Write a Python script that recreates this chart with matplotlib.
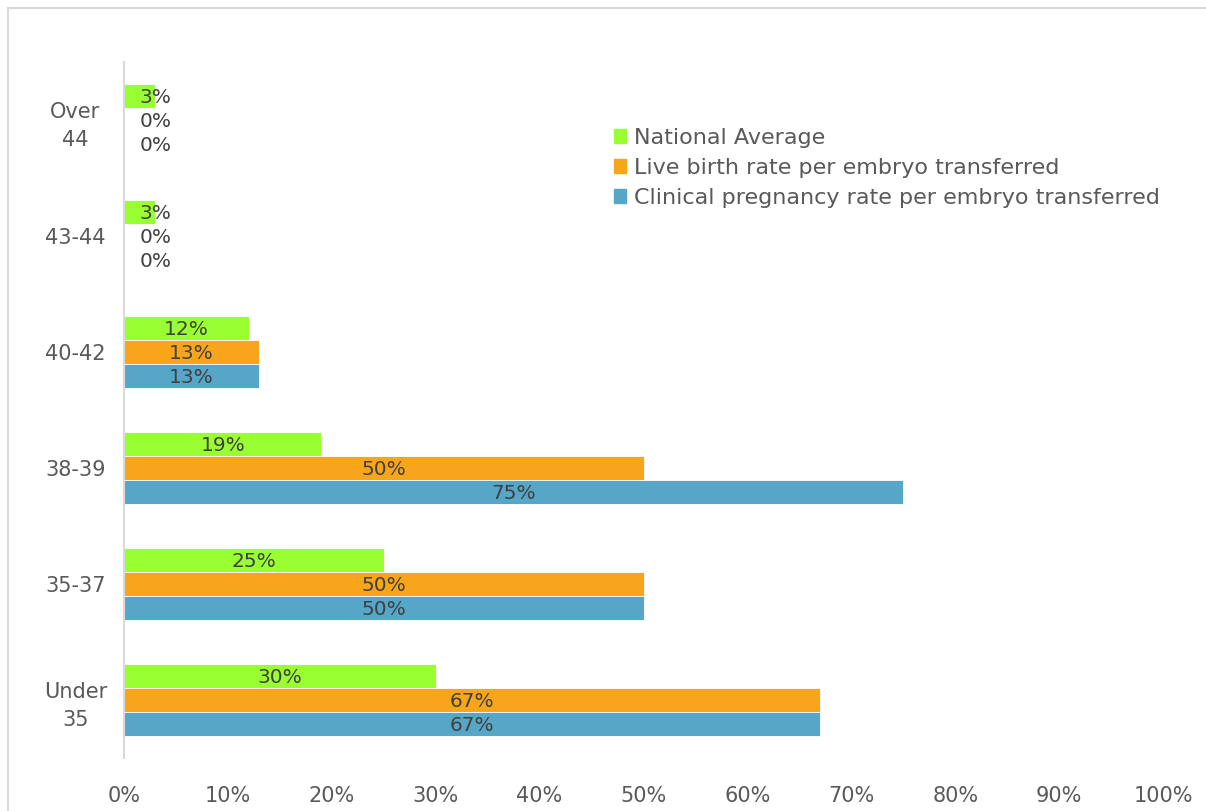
import numpy as np
import matplotlib.pyplot as plt
from matplotlib.lines import Line2D
from matplotlib.patches import Patch
from matplotlib.ticker import FuncFormatter

# data (bottom to top)
categories = ['Under\n35', '35-37', '38-39', '40-42', '43-44', 'Over\n44']
national   = [30, 25, 19, 12, 3, 3]
live_birth = [67, 50, 50, 13, 0, 0]
clinical   = [67, 50, 75, 13, 0, 0]
series_names = ['National Average',
                'Live birth rate per embryo transferred',
                'Clinical pregnancy rate per embryo transferred']

green, orange, blue = '#99FF33', '#F7A61B', '#56A6C7'
txt = '#404040'
grey = '#595959'

plt.rcParams['font.family'] = ['DejaVu Sans']

fig = plt.figure(figsize=(12.06, 8.11), dpi=100)
ax = fig.add_axes([124/1206, 1 - 758/811, (1163-124)/1206, (758-62)/811])

y = np.arange(len(categories))
h = 0.207
series = [(national, green, h), (live_birth, orange, 0), (clinical, blue, -h)]
for vals, col, off in series:
    bars = ax.barh(y + off, vals, height=h, color=col, edgecolor='white', linewidth=0.6)
    for b, v in zip(bars, vals):
        ax.text(max(v / 2, 3.0), b.get_y() + b.get_height()/2 - 0.01, f'{v}%',
                ha='center', va='center', fontsize=14.5, color=txt)

ax.set_xlim(0, 100)
ax.set_ylim(-0.5, 5.5)
ax.set_xticks(np.arange(0, 101, 10))
ax.xaxis.set_major_formatter(FuncFormatter(lambda v, p: f'{int(v)}%'))
ax.set_yticks(y)
ax.set_yticklabels(categories, linespacing=1.5, ha='center')
ax.tick_params(axis='both', length=0, labelsize=15, labelcolor=grey)
ax.tick_params(axis='x', pad=20)
ax.tick_params(axis='y', pad=35)
for s in ['top', 'right', 'bottom']:
    ax.spines[s].set_visible(False)
ax.spines['left'].set_color('#D9D9D9')
ax.spines['left'].set_linewidth(1.5)

handles = [Patch(color=c) for c in [green, orange, blue]]
leg = fig.legend(handles, series_names, loc='upper left', bbox_to_anchor=(605/1206, 1 - 119/811),
                 frameon=False, fontsize=16, handlelength=0.55, handleheight=0.55,
                 handletextpad=0.35, labelspacing=0.45, borderaxespad=0)
for t in leg.get_texts():
    t.set_color(grey)

# outer border (top and left edges visible)
fig.add_artist(Line2D([8/1206, 8/1206], [0, 1 - 8/811], transform=fig.transFigure,
                      color='#D9D9D9', lw=1.5))
fig.add_artist(Line2D([8/1206, 1], [1 - 8/811, 1 - 8/811], transform=fig.transFigure,
                      color='#D9D9D9', lw=1.5))

fig.savefig('out.png', dpi=100)
